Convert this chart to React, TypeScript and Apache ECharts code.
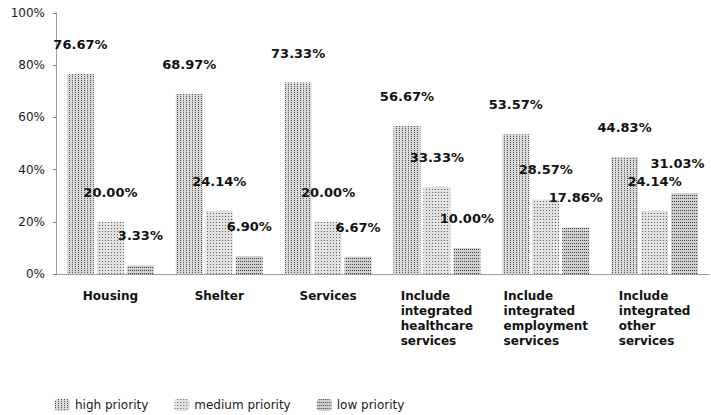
import React, { useEffect, useRef } from "react";
import * as echarts from "echarts";

const categories = [
  "Housing",
  "Shelter",
  "Services",
  "Include\nintegrated\nhealthcare\nservices",
  "Include\nintegrated\nemployment\nservices",
  "Include\nintegrated\nother\nservices",
];
const seriesNames = ["high priority", "medium priority", "low priority"];
const highPriority = [76.67, 68.97, 73.33, 56.67, 53.57, 44.83];
const mediumPriority = [20.0, 24.14, 20.0, 33.33, 28.57, 24.14];
const lowPriority = [3.33, 6.9, 6.67, 10.0, 17.86, 31.03];

const FONT = "DejaVu Sans";

// stippled grey fill for each priority level
const fills = [
  { base: "#d9d9d9", dot: "rgba(40,40,40,0.75)", dx: [1, 2], dy: [1, 1] },
  { base: "#e2e2e2", dot: "rgba(40,40,40,0.7)", dx: [1, 2], dy: [1, 2] },
  { base: "#cfcfcf", dot: "rgba(30,30,30,0.8)", dx: [1, 1], dy: [1, 2] },
];

export default function App() {
  const ref = useRef<HTMLDivElement>(null);

  useEffect(() => {
    if (!ref.current) return;
    const chart = echarts.init(ref.current, undefined, { renderer: "svg" });
    const values = [highPriority, mediumPriority, lowPriority];
    const lastIndex = categories.length - 1;

    chart.setOption({
      animation: false,
      backgroundColor: "#ffffff",
      grid: { left: 56, right: 2, top: 13, bottom: 141 },
      legend: {
        left: 50,
        top: 394,
        itemWidth: 15,
        itemHeight: 12,
        itemGap: 26,
        textStyle: { fontFamily: FONT, fontSize: 12, color: "#1a1a1a" },
        data: seriesNames,
      },
      xAxis: {
        type: "category",
        data: categories,
        axisLine: { lineStyle: { color: "#888", type: "dotted", width: 1 } },
        axisTick: { show: false },
        axisLabel: {
          interval: 0,
          margin: 14,
          formatter: (v: string) =>
            v
              .split("\n")
              .map((l) => `{a|${l}}`)
              .join("\n"),
          rich: {
            a: {
              align: "left",
              fontFamily: FONT,
              fontSize: 12,
              fontWeight: "bold",
              lineHeight: 15,
              color: "#111",
            },
          },
        },
      },
      yAxis: {
        type: "value",
        min: 0,
        max: 100,
        interval: 20,
        splitLine: { show: false },
        axisLine: {
          show: true,
          lineStyle: { color: "#888", type: "dotted", width: 1 },
        },
        axisTick: { show: true, length: 3, lineStyle: { color: "#888" } },
        axisLabel: {
          margin: 11,
          formatter: "{value}%",
          fontFamily: FONT,
          fontSize: 12,
          color: "#1a1a1a",
        },
      },
      series: seriesNames.map((name, i) => ({
        name,
        type: "bar",
        // the right-most value label is nudged inward so it stays on the canvas
        data: values[i].map((v, j) =>
          i === 2 && j === lastIndex
            ? { value: v, label: { offset: [-7, 0] } }
            : v
        ),
        barWidth: 27,
        barGap: "11%",
        itemStyle: {
          color: fills[i].base,
          decal: {
            symbol: "rect",
            symbolSize: 1,
            dashArrayX: fills[i].dx,
            dashArrayY: fills[i].dy,
            color: fills[i].dot,
            rotation: 0,
          },
        },
        label: {
          show: true,
          position: "top",
          distance: 23,
          formatter: (p: any) => `${Number(p.value).toFixed(2)}%`,
          fontFamily: FONT,
          fontSize: 13,
          fontWeight: "bold",
          color: "#111",
        },
      })),
    });

    return () => chart.dispose();
  }, []);

  return (
    <div
      ref={ref}
      style={{ position: "fixed", left: 0, top: 0, width: 711, height: 415 }}
    />
  );
}
